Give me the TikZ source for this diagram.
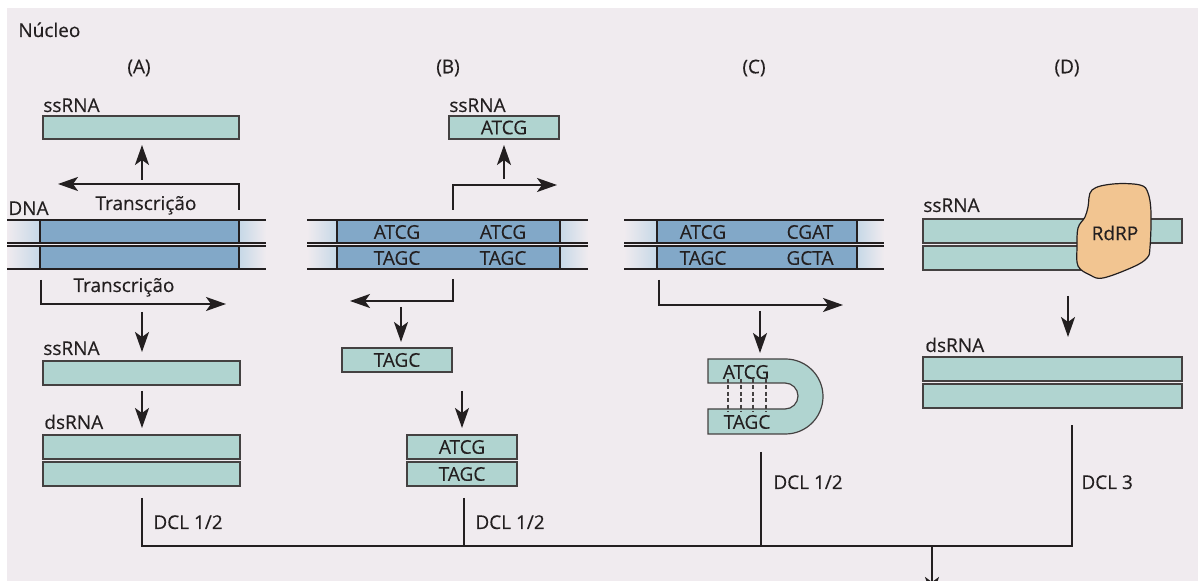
\documentclass[tikz,border=0pt]{standalone}
\usepackage{fontspec}
\setmainfont[FakeBold=0.25]{Open Sans}
\usetikzlibrary{arrows.meta}
\definecolor{bgc}{HTML}{F0EBEF}
\definecolor{rnac}{HTML}{B0D4D0}
\definecolor{dnab}{HTML}{82A8C8}
\definecolor{dnal}{HTML}{C6D8E7}
\definecolor{rdrpc}{HTML}{F2C591}
\definecolor{ink}{HTML}{231F20}
\begin{document}
\begin{tikzpicture}[x=0.5pt,y=-0.5pt,
  font=\fontsize{9.5}{11}\selectfont,
  lbl/.style={inner sep=0pt, text=ink},
  rnabox/.style={draw=ink!85, fill=rnac, line width=0.6pt, inner sep=0pt, outer sep=0pt, text=ink},
  arr/.style={draw=ink, line width=1pt, -{Stealth[length=10pt,width=7pt,inset=2.5pt]}},
  ln/.style={draw=ink, line width=1pt},
  pair/.style={draw=ink!85, dash pattern=on 2pt off 1.2pt, line width=0.6pt},
]
\useasboundingbox (0,0) rectangle (1198,581);
\clip (0,0) rectangle (1198,581);
\fill[white] (0,0) rectangle (1198,581);
\fill[bgc] (7,8) rectangle (1198,581);

% titles
\node[lbl, anchor=base west] (tN) at (18,37) {Núcleo};
\node[lbl] (tA) at (139,68) {(A)};
\node[lbl] (tB) at (448,68) {(B)};
\node[lbl] (tC) at (754,68) {(C)};
\node[lbl] (tD) at (1067,68) {(D)};

% DNA double strands
\foreach \xa/\xb/\xc/\xd in {7/40/239/266, 307/337/560/588, 624/657/857/884}{
  \foreach \ya/\yb in {220/243, 246/269}{
    \shade[left color=bgc, right color=dnal] (\xa,\ya) rectangle (\xb,\yb);
    \fill[dnab] (\xb,\ya) rectangle (\xc,\yb);
    \shade[left color=dnal, right color=bgc] (\xc,\ya) rectangle (\xd,\yb);
    \draw[ink, line width=0.7pt] (\xb,\ya) -- (\xb,\yb) (\xc,\ya) -- (\xc,\yb);
    \draw[ink, line width=0.9pt] (\xa,\ya) -- (\xd,\ya) (\xa,\yb) -- (\xd,\yb);
  }
}
\node[lbl] (sB1) at (397,232) {ATCG};
\node[lbl] (sB2) at (503,232) {ATCG};
\node[lbl] (sB3) at (397,258) {TAGC};
\node[lbl] (sB4) at (503,258) {TAGC};
\node[lbl] (sC1) at (703,232) {ATCG};
\node[lbl] (sC2) at (810,232) {CGAT};
\node[lbl] (sC3) at (703,258) {TAGC};
\node[lbl] (sC4) at (810,258) {GCTA};
\node[lbl, anchor=base west] (tDNA) at (8,215) {DNA};

% ---------- (A)
\node[lbl, anchor=base west] (lA1) at (43,112) {ssRNA};
\node[rnabox, minimum width=98pt, minimum height=11.5pt] (A1) at (141,127.5) {};
\node[lbl, anchor=base] (trA1) at (146,210) {Transcrição};
\node[lbl, anchor=base] (trA2) at (124,292) {Transcrição};
\coordinate (aU1) at (142,180); \coordinate (aU2) at (142,145);
\draw[arr] (aU1) -- (aU2);
\coordinate (tAs) at (239,210); \coordinate (tAe) at (58,184);
\draw[arr] (tAs) |- (tAe);
\coordinate (bAs) at (41,280); \coordinate (bAe) at (226,304);
\draw[arr] (bAs) |- (bAe);
\coordinate (aD1) at (142,312); \coordinate (aD2) at (142,352);
\draw[arr] (aD1) -- (aD2);
\node[lbl, anchor=base west] (lA2) at (43,355) {ssRNA};
\node[rnabox, minimum width=98.5pt, minimum height=12pt] (A2) at (141.5,373) {};
\coordinate (aD3) at (142,391); \coordinate (aD4) at (142,428);
\draw[arr] (aD3) -- (aD4);
\node[lbl, anchor=base west] (lA3) at (44,429) {dsRNA};
\node[rnabox, minimum width=98.5pt, minimum height=12pt] (A3) at (141.5,447) {};
\node[rnabox, minimum width=98.5pt, minimum height=12pt] (A4) at (141.5,474) {};

% ---------- (B)
\node[lbl, anchor=base west] (lB1) at (449,112) {ssRNA};
\node[rnabox, minimum width=55pt, minimum height=11.5pt] (B1) at (504,127.5) {ATCG};
\coordinate (bU1) at (504,179); \coordinate (bU2) at (504,145);
\draw[arr] (bU1) -- (bU2);
\coordinate (tBs) at (453,210); \coordinate (tBe) at (557,185);
\draw[arr] (tBs) |- (tBe);
\coordinate (bBs) at (453,279); \coordinate (bBe) at (350,301);
\draw[arr] (bBs) |- (bBe);
\coordinate (bD1) at (401,307); \coordinate (bD2) at (401,342);
\draw[arr] (bD1) -- (bD2);
\node[rnabox, minimum width=55pt, minimum height=12pt] (B2) at (397,360) {TAGC};
\coordinate (bD3) at (462,391); \coordinate (bD4) at (462,428);
\draw[arr] (bD3) -- (bD4);
\node[rnabox, minimum width=55pt, minimum height=12pt] (B3) at (462,447) {ATCG};
\node[rnabox, minimum width=55pt, minimum height=12pt] (B4) at (462,474) {TAGC};

% ---------- (C)
\coordinate (bCs) at (659,280); \coordinate (bCe) at (843,305);
\draw[arr] (bCs) |- (bCe);
\coordinate (cD1) at (760,311); \coordinate (cD2) at (760,353);
\draw[arr] (cD1) -- (cD2);
\draw[rnabox] (708,359) -- (785.5,359) arc[start angle=90, end angle=-90, radius=18.75pt]
  -- (708,434) -- (708,409) -- (785,409) arc[start angle=-90, end angle=90, radius=6.5pt]
  -- (708,383) -- cycle;
\foreach \xp in {728,741,753,766}{ \draw[pair] (\xp,379) -- (\xp,412); }
\node[lbl] (hC1) at (746,372) {ATCG};
\node[lbl] (hC2) at (747,422) {TAGC};

% ---------- (D)
\node[lbl, anchor=base west] (lD1) at (923,212) {ssRNA};
\node[rnabox, minimum width=129.5pt, minimum height=12pt] (D1) at (1052.5,231) {};
\node[rnabox, minimum width=88.5pt, minimum height=12pt] (D2) at (1011.5,258) {};
\draw[fill=rdrpc, draw=ink, line width=0.6pt] plot[smooth cycle, tension=0.6] coordinates {
  (1092,190) (1113,184) (1140,185) (1148,193) (1151,213) (1150,247) (1147,258)
  (1133,267) (1103,278) (1090,275) (1078,266) (1077,247) (1078,228) (1085,217)
  (1088,207)};
\node[lbl] (rdrp) at (1115,233) {RdRP};
\coordinate (dD1) at (1068,296); \coordinate (dD2) at (1068,337);
\draw[arr] (dD1) -- (dD2);
\node[lbl, anchor=base west] (lD2) at (925,352) {dsRNA};
\node[rnabox, minimum width=129.5pt, minimum height=12pt] (D3) at (1052.5,369) {};
\node[rnabox, minimum width=129.5pt, minimum height=12pt] (D4) at (1052.5,396) {};

% ---------- DCL connectors
\coordinate (dAt) at (142,498);
\coordinate (hR) at (1072,546);
\coordinate (dDt) at (1072,425);
\draw[ln] (dAt) |- (hR) -- (dDt);
\coordinate (dBt) at (464,498); \coordinate (dBb) at (464,546);
\draw[ln] (dBt) -- (dBb);
\coordinate (dCt) at (761,452); \coordinate (dCb) at (761,546);
\draw[ln] (dCt) -- (dCb);
\coordinate (fS) at (932,546); \coordinate (fE) at (932,597);
\draw[arr] (fS) -- (fE);
\node[lbl, anchor=base west] (kA) at (153,529) {DCL 1/2};
\node[lbl, anchor=base west] (kB) at (475,529) {DCL 1/2};
\node[lbl, anchor=base west] (kC) at (773,489) {DCL 1/2};
\node[lbl, anchor=base west] (kD) at (1081,489) {DCL 3};
\end{tikzpicture}
\end{document}
